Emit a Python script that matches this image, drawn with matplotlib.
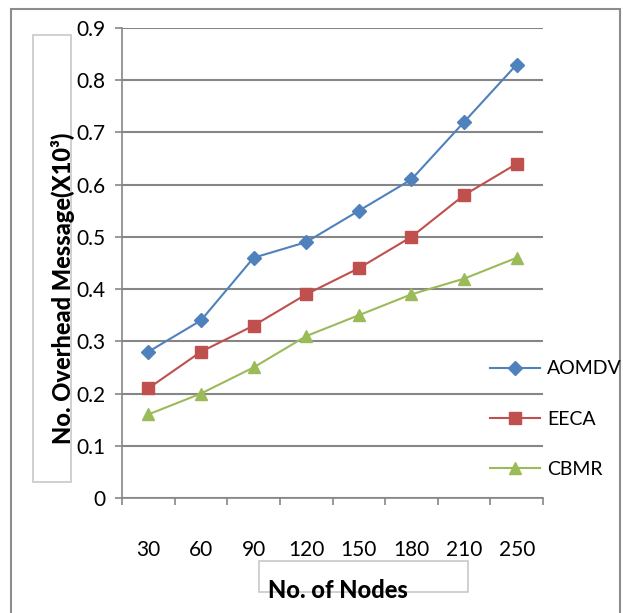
import matplotlib
matplotlib.use("Agg")
import matplotlib.pyplot as plt
from matplotlib.patches import Rectangle

# datos del grafico
nodos = ["30", "60", "90", "120", "150", "180", "210", "250"]
aomdv = [0.28, 0.34, 0.46, 0.49, 0.55, 0.61, 0.72, 0.83]
eeca = [0.21, 0.28, 0.33, 0.39, 0.44, 0.50, 0.58, 0.64]
cbmr = [0.16, 0.20, 0.25, 0.31, 0.35, 0.39, 0.42, 0.46]
yticks = [0, 0.1, 0.2, 0.3, 0.4, 0.5, 0.6, 0.7, 0.8, 0.9]

plt.rcParams["font.family"] = ["Lato", "DejaVu Sans"]

W, H = 623, 613
fig = plt.figure(figsize=(W / 100, H / 100), dpi=100)
ax = fig.add_axes([122 / W, 1 - 498 / H, (543 - 122) / W, (498 - 28) / H])

gris = "#868686"
xs = [i + 0.5 for i in range(len(nodos))]
ax.plot(xs, aomdv, color="#4F81BD", marker="D", markersize=7, lw=1.5, label="AOMDV")
ax.plot(xs, eeca, color="#C0504D", marker="s", markersize=8, lw=1.5, label="EECA")
ax.plot(xs, cbmr, color="#9BBB59", marker="^", markersize=9, lw=1.5, label="CBMR")

ax.set_xlim(0, len(nodos))
ax.set_ylim(0, 0.9)
ax.set_yticks(yticks)
ax.set_yticklabels([f"{v:g}" for v in yticks])
ax.set_xticks(xs)
ax.set_xticklabels(nodos)
ax.set_xticks(range(len(nodos) + 1), minor=True)
ax.tick_params(axis="x", which="major", length=0, pad=30, labelsize=15)
ax.tick_params(axis="x", which="minor", length=5, width=1.2, color=gris, direction="out")
ax.tick_params(axis="y", length=5, width=1.2, color=gris, pad=7, labelsize=15)

ax.grid(axis="y", color=gris, lw=1.5)
ax.set_axisbelow(True)
for lado in ["top", "right"]:
    ax.spines[lado].set_visible(False)
for lado in ["left", "bottom"]:
    ax.spines[lado].set_color(gris)
    ax.spines[lado].set_linewidth(1.2)

# leyenda
fig.legend(loc="upper left", bbox_to_anchor=(472 / W, 1 - 343 / H), frameon=False,
           fontsize=14, labelspacing=1.7, handlelength=2.6, handletextpad=0.35)

# etiquetas con cajas
fig.add_artist(Rectangle((33 / W, 1 - 482 / H), 38 / W, 447 / H, transform=fig.transFigure,
                         fill=False, edgecolor="#c8c8c8", lw=1.2))
fig.text(63 / W, 1 - 288 / H, "No. Overhead Message(X10³)", rotation=90, ha="center",
         va="center", fontsize=17, fontweight="black")
fig.add_artist(Rectangle((259 / W, 1 - 592 / H), 209 / W, 31 / H, transform=fig.transFigure,
                         fill=False, edgecolor="#c8c8c8", lw=1.2))
fig.text(338 / W, 1 - 591 / H, "No. of Nodes", ha="center", va="center", fontsize=17,
         fontweight="black")

# marco exterior
fig.add_artist(Rectangle((11 / W, -0.01), 609 / W, 0.01 + 1 - 9 / H, transform=fig.transFigure,
                         fill=False, edgecolor="#8c8c8c", lw=1.5))

fig.savefig("out.png", dpi=100)
